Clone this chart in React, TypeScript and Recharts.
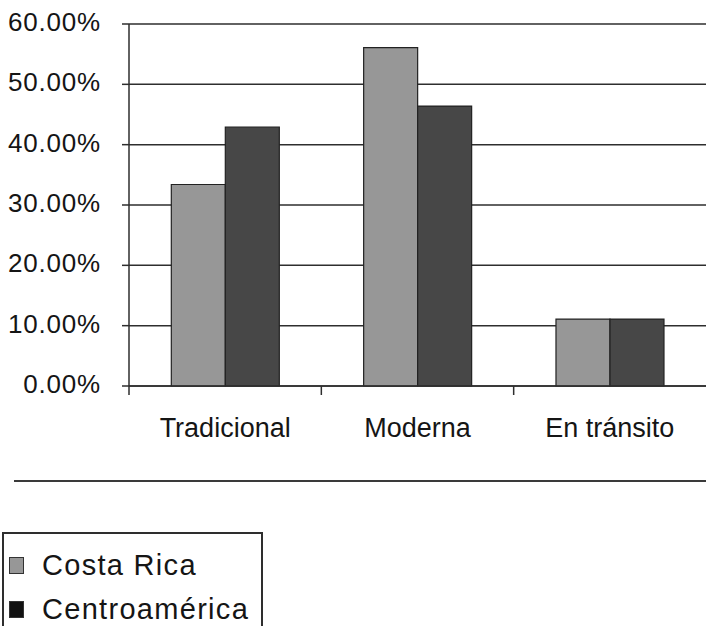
import { BarChart, Bar, XAxis, YAxis, CartesianGrid, Legend } from 'recharts';

const categorias = ['Tradicional', 'Moderna', 'En tránsito'];
const costaRica = [0.334, 0.561, 0.111];
const centroamerica = [0.429, 0.464, 0.111];
const yTicks = [0, 0.1, 0.2, 0.3, 0.4, 0.5, 0.6];

const series = [
  { key: 'costaRica', name: 'Costa Rica', fill: '#979797', swatch: '#979797' },
  { key: 'centroamerica', name: 'Centroamérica', fill: '#474747', swatch: '#111111' },
];

const data = categorias.map((c, i) => ({
  categoria: c,
  costaRica: costaRica[i],
  centroamerica: centroamerica[i],
}));

const FONT = '"Liberation Sans", Arial, sans-serif';
const INK = '#151515';
const LINE = '#2e2e2e';
const PLOT_BOTTOM = 386;

function XTick(props: any) {
  const { x, payload, width, visibleTicksCount } = props;
  const bw = width / visibleTicksCount;
  const left = x - bw / 2;
  return (
    <g>
      <line x1={left} x2={left} y1={PLOT_BOTTOM} y2={PLOT_BOTTOM + 9} stroke={LINE} strokeWidth={1.5} />
      <text x={x} y={PLOT_BOTTOM + 51} textAnchor="middle" fill={INK} fontSize={27} fontFamily={FONT}>
        {payload.value}
      </text>
    </g>
  );
}

function YTick(props: any) {
  const { x, y, payload } = props;
  return (
    <text x={x} y={y + 7} textAnchor="end" fill={INK} fontSize={26} fontFamily={FONT} letterSpacing={0.8}>
      {(payload.value * 100).toFixed(2)}%
    </text>
  );
}

function Leyenda() {
  return (
    <div
      style={{
        boxSizing: 'border-box',
        width: 261,
        height: 110,
        border: `2px solid ${LINE}`,
        fontFamily: FONT,
        fontSize: 29,
        letterSpacing: 1.3,
        color: INK,
        paddingLeft: 5,
        paddingTop: 9,
      }}
    >
      {series.map((s) => (
        <div key={s.key} style={{ display: 'flex', alignItems: 'center', height: 44, lineHeight: '44px' }}>
          <span
            style={{
              display: 'inline-block',
              width: 13,
              height: 15,
              background: s.swatch,
              border: '1px solid #333',
              marginRight: 18,
            }}
          />
          <span>{s.name}</span>
        </div>
      ))}
    </div>
  );
}

export default function App() {
  return (
    <div style={{ position: 'absolute', left: 0, top: 0, width: 706, height: 626, background: '#fff', overflow: 'hidden' }}>
      <BarChart
        width={706}
        height={626}
        data={data}
        margin={{ top: 24, right: 0, left: 0, bottom: 180 }}
        barCategoryGap="22%"
        barGap={0}
      >
        <CartesianGrid vertical={false} stroke={LINE} strokeWidth={1.5} />
        <XAxis
          dataKey="categoria"
          height={60}
          axisLine={{ stroke: LINE, strokeWidth: 1.5 }}
          tickLine={false}
          tick={<XTick />}
          interval={0}
        />
        <YAxis
          width={129}
          domain={[0, 0.6]}
          ticks={yTicks}
          interval={0}
          axisLine={{ stroke: LINE, strokeWidth: 1.5 }}
          tickLine={{ stroke: LINE, strokeWidth: 1.5 }}
          tickSize={7}
          tickMargin={21}
          tick={<YTick />}
        />
        {series.map((s) => (
          <Bar
            key={s.key}
            dataKey={s.key}
            name={s.name}
            fill={s.fill}
            stroke="#222"
            strokeWidth={1.2}
            isAnimationActive={false}
          />
        ))}
        <Legend
          layout="vertical"
          align="center"
          verticalAlign="middle"
          content={<Leyenda />}
          wrapperStyle={{ top: 532, left: 2, width: 261, height: 110 }}
        />
      </BarChart>
      <div style={{ position: 'absolute', left: 14, top: 480, width: 692, height: 2, background: '#3a3a3a' }} />
    </div>
  );
}
